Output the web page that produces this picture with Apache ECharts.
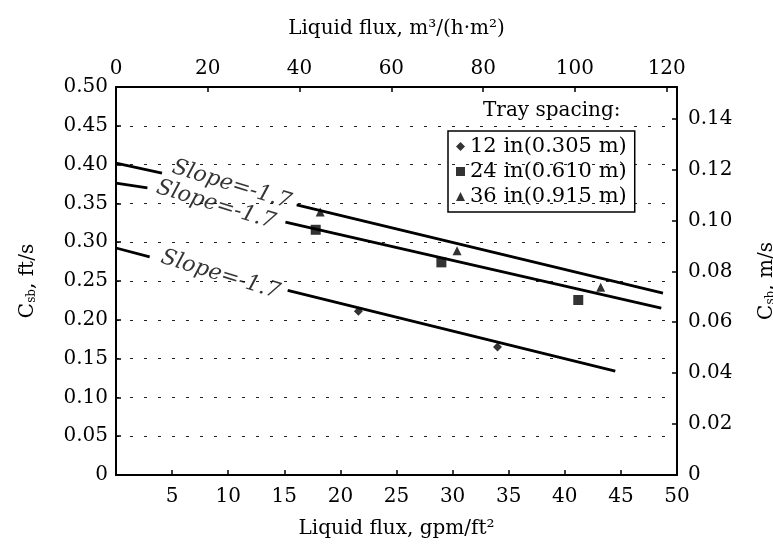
<!DOCTYPE html>
<html>
<head>
<meta charset="utf-8">
<title>Flooding capacity vs liquid flux</title>
<script src="https://cdn.jsdelivr.net/npm/echarts@6/dist/echarts.min.js"></script>
<style>
  html, body { margin: 0; padding: 0; background: #fff; }
  #chart { width: 773px; height: 545px; }
</style>
</head>
<body>
<div id="chart"></div>
<script>
// Measured capacity parameter C_sb (ft/s) against liquid flux (gpm/ft2)
const pts12 = [[21.6, 0.211], [34.0, 0.165]];
const pts24 = [[17.8, 0.316], [29.0, 0.274], [41.2, 0.2255]];
const pts36 = [[18.2, 0.339], [30.4, 0.289], [43.2, 0.242]];

// Correlation lines, broken where the slope note sits on them
const fit12 = [[0, 0.2925], [3.0, 0.281], '-', [15.3, 0.238], [44.5, 0.134]];
const fit24 = [[0, 0.376], [2.8, 0.370], '-', [15.1, 0.326], [48.6, 0.215]];
const fit36 = [[0, 0.402], [4.1, 0.389], '-', [16.1, 0.348], [48.75, 0.2345]];

const seriesNames = ['12 in(0.305 m)', '24 in(0.610 m)', '36 in(0.915 m)'];
const slopeText = 'Slope=-1.7';

// Axis ranges: gpm/ft2 and ft/s, with the metric equivalents on the opposite sides
const gpmMax = 50;
const ftsMax = 0.5;
const M3H_PER_GPM = 2.4448;   // m3/(h·m2) per gpm/ft2
const MS_PER_FTS = 0.3048;    // m/s per ft/s

const serif = 'DejaVu Serif';
const tickFont = { fontFamily: serif, fontSize: 20, color: '#000' };
const axisLine = { onZero: false, lineStyle: { color: '#000', width: 2 } };
const axisTick = { inside: true, length: 5, lineStyle: { color: '#000', width: 1.5 } };

const chart = echarts.init(document.getElementById('chart'), null, { renderer: 'canvas' });

const fitLine = (data) => ({
  type: 'line',
  data: data,
  xAxisIndex: 0, yAxisIndex: 0,
  symbol: 'none',
  connectNulls: false,
  silent: true,
  lineStyle: { color: '#000', width: 2.8 },
  z: 3
});

const slopeNote = (x, y) => ({
  type: 'scatter',
  data: [[x, y]],
  symbolSize: 0,
  silent: true,
  label: {
    show: true,
    position: 'inside',
    formatter: slopeText,
    rotate: -17,
    fontFamily: serif,
    fontStyle: 'italic',
    fontSize: 22,
    color: '#000'
  },
  z: 4
});

const subName = (unit) => ({
  text: '{c|C}{s|sb}{c|, ' + unit + '}',
  style: {
    color: '#000',
    rich: {
      c: { fontFamily: serif, fontSize: 20, color: '#000' },
      s: { fontFamily: serif, fontSize: 12, color: '#000', verticalAlign: 'bottom', padding: [8, 0, 0, 0] }
    }
  }
});

chart.setOption({
  animation: false,
  backgroundColor: '#fff',
  grid: { left: 116, right: 96, top: 87, bottom: 70, containLabel: false, outerBoundsMode: 'none' },
  title: {
    text: 'Tray spacing:',
    left: 478, top: 96,
    textStyle: { fontFamily: serif, fontSize: 20, fontWeight: 'normal', color: '#000' }
  },
  legend: {
    data: seriesNames,
    orient: 'vertical',
    left: 448, top: 131,
    padding: [5, 8, 5, 8],
    itemGap: 4,
    itemWidth: 9, itemHeight: 9,
    borderColor: '#000', borderWidth: 1.5,
    textStyle: { fontFamily: serif, fontSize: 21, color: '#000' }
  },
  xAxis: [
    {
      type: 'value',
      position: 'bottom',
      min: 0, max: gpmMax, interval: 5,
      name: 'Liquid flux, gpm/ft²',
      nameLocation: 'middle', nameGap: 44,
      nameTextStyle: { fontFamily: serif, fontSize: 20, color: '#000' },
      axisLine: axisLine,
      axisTick: axisTick,
      axisLabel: Object.assign({ margin: 12, formatter: v => (v === 0 ? '' : String(v)) }, tickFont),
      splitLine: { show: false }
    },
    {
      type: 'value',
      position: 'top',
      min: 0, max: gpmMax * M3H_PER_GPM, interval: 20,
      name: 'Liquid flux, m³/(h·m²)',
      nameLocation: 'middle', nameGap: 48,
      nameTextStyle: { fontFamily: serif, fontSize: 20, color: '#000' },
      axisLine: axisLine,
      axisTick: axisTick,
      axisLabel: Object.assign({ margin: 8, showMaxLabel: false }, tickFont),
      splitLine: { show: false }
    }
  ],
  yAxis: [
    {
      type: 'value',
      position: 'left',
      min: 0, max: ftsMax, interval: 0.05,
      name: subName('ft/s').text,
      nameLocation: 'middle', nameGap: 78,
      nameTextStyle: subName('ft/s').style,
      axisLine: axisLine,
      axisTick: axisTick,
      axisLabel: Object.assign({ margin: 8, formatter: v => (v === 0 ? '0' : v.toFixed(2)) }, tickFont),
      splitLine: { show: true, lineStyle: { color: '#222', width: 1.2, type: [3, 11] } }
    },
    {
      type: 'value',
      position: 'right',
      min: 0, max: ftsMax * MS_PER_FTS, interval: 0.02,
      name: subName('m/s').text,
      nameLocation: 'middle', nameGap: 80,
      nameTextStyle: subName('m/s').style,
      axisLine: axisLine,
      axisTick: axisTick,
      axisLabel: Object.assign({ margin: 11, showMaxLabel: false,
        formatter: v => (v === 0 ? '0' : v.toFixed(2)) }, tickFont),
      splitLine: { show: false }
    }
  ],
  series: [
    fitLine(fit12),
    fitLine(fit24),
    fitLine(fit36),
    {
      name: seriesNames[0], type: 'scatter', data: pts12,
      symbol: 'diamond', symbolSize: 9,
      itemStyle: { color: '#000' }, z: 5
    },
    {
      name: seriesNames[1], type: 'scatter', data: pts24,
      symbol: 'rect', symbolSize: 10,
      itemStyle: { color: '#000' }, z: 5
    },
    {
      name: seriesNames[2], type: 'scatter', data: pts36,
      symbol: 'triangle', symbolSize: 9,
      itemStyle: { color: '#000' }, z: 5
    },
    slopeNote(10.3, 0.374),
    slopeNote(8.9, 0.348),
    slopeNote(9.3, 0.258)
  ]
});
</script>
</body>
</html>
